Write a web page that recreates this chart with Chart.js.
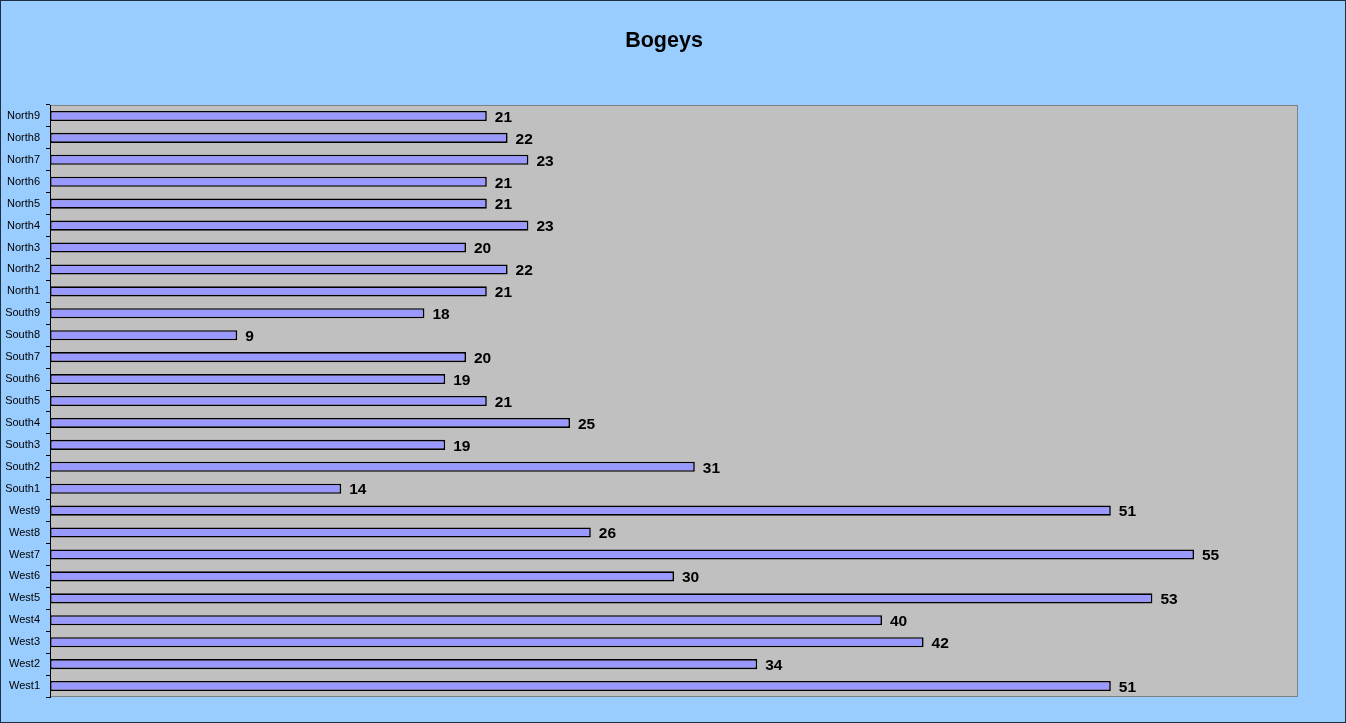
<!DOCTYPE html>
<html>
<head>
<meta charset="utf-8">
<title>Bogeys</title>
<script src="https://cdn.jsdelivr.net/npm/chart.js@4"></script>
<style>
    html, body { margin: 0; padding: 0; background: #99CCFF; overflow: hidden; }
    #wrap { width: 1346px; height: 723px; }
</style>
</head>
<body>
<div id="wrap"><canvas id="bogeyChart"></canvas></div>
<script>
'use strict';

// bottom to top, as in the sheet
const holes = [
    'West1', 'West2', 'West3', 'West4', 'West5', 'West6', 'West7', 'West8', 'West9',
    'South1', 'South2', 'South3', 'South4', 'South5', 'South6', 'South7', 'South8', 'South9',
    'North1', 'North2', 'North3', 'North4', 'North5', 'North6', 'North7', 'North8', 'North9'
];
const westBogeys = [51, 34, 42, 40, 53, 30, 55, 26, 51];
const southBogeys = [14, 31, 19, 25, 21, 19, 20, 9, 18];
const northBogeys = [21, 22, 20, 23, 21, 21, 23, 22, 21];
const chartTitle = 'Bogeys';

const bogeys = westBogeys.concat(southBogeys, northBogeys);

// background, plot box and title
const frame = {
    id: 'frame',
    beforeDraw(chart) {
        const ctx = chart.ctx;
        const a = chart.chartArea;
        ctx.save();
        ctx.fillStyle = '#99CCFF';
        ctx.fillRect(0, 0, chart.width, chart.height);
        ctx.strokeStyle = '#1f2f3f';
        ctx.lineWidth = 1;
        ctx.strokeRect(0.5, 0.5, chart.width - 1, chart.height - 1);
        ctx.fillStyle = '#C0C0C0';
        ctx.fillRect(a.left, a.top, a.right - a.left, a.bottom - a.top);
        ctx.strokeStyle = '#808080';
        ctx.strokeRect(a.left + 0.5, a.top + 0.5, a.right - a.left - 1, a.bottom - a.top - 1);
        ctx.fillStyle = '#000';
        ctx.font = 'bold 21.5px "Liberation Sans", Arial, sans-serif';
        ctx.textAlign = 'center';
        ctx.textBaseline = 'alphabetic';
        ctx.fillText(chartTitle, 664, 47);
        ctx.restore();
    }
};

// numbers at the end of each bar
const valueLabels = {
    id: 'valueLabels',
    afterDatasetsDraw(chart) {
        const ctx = chart.ctx;
        const meta = chart.getDatasetMeta(0);
        ctx.save();
        ctx.fillStyle = '#000';
        ctx.font = 'bold 15.5px "Liberation Sans", Arial, sans-serif';
        ctx.textAlign = 'left';
        ctx.textBaseline = 'middle';
        meta.data.forEach((bar, i) => {
            ctx.fillText(bogeys[i], bar.x + 8, bar.y + 1.5);
        });
        ctx.restore();
    }
};

new Chart('bogeyChart', {
    type: 'bar',
    data: {
        labels: holes,
        datasets: [{
            label: chartTitle,
            data: bogeys,
            backgroundColor: '#9999FF',
            borderColor: '#000',
            borderWidth: 1.6,
            borderSkipped: false,
            categoryPercentage: 1,
            barPercentage: 0.46
        }]
    },
    options: {
        indexAxis: 'y',
        responsive: true,
        maintainAspectRatio: false,
        animation: false,
        layout: { padding: { left: 0, right: 48, top: 105, bottom: 26 } },
        plugins: {
            legend: { display: false },
            title: { display: false },
            tooltip: { enabled: false }
        },
        scales: {
            x: {
                display: false,
                min: 0,
                max: 60
            },
            y: {
                reverse: true,
                afterFit(scale) { scale.width = 50; },
                border: { display: true, color: '#000', width: 1 },
                grid: {
                    offset: true,
                    drawOnChartArea: false,
                    drawTicks: true,
                    tickLength: 4,
                    color: '#000'
                },
                ticks: {
                    color: '#000',
                    padding: 6,
                    autoSkip: false,
                    font: { family: '"Liberation Sans", Arial, sans-serif', size: 11 }
                }
            }
        }
    },
    plugins: [frame, valueLabels]
});
</script>
</body>
</html>
